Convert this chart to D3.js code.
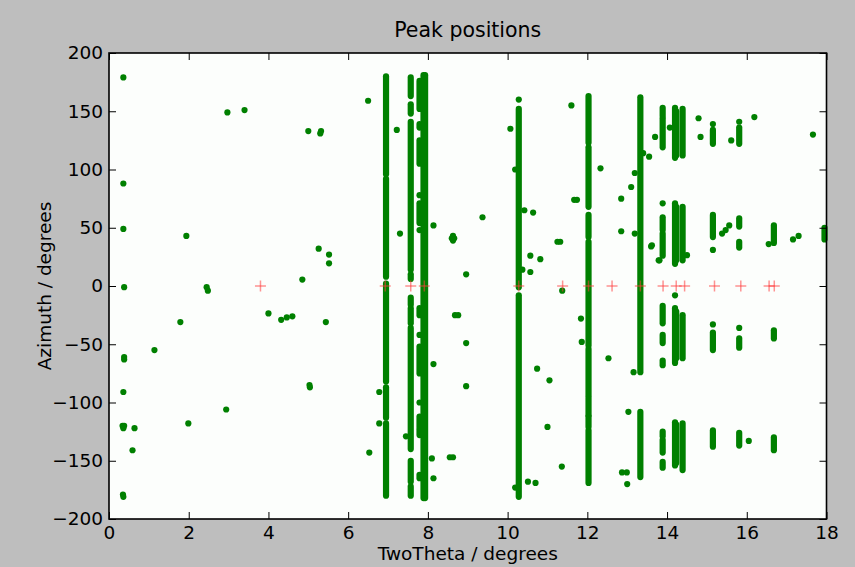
<!DOCTYPE html>
<html>
<head>
<meta charset="utf-8">
<script src="https://cdn.jsdelivr.net/npm/d3@7/dist/d3.min.js"></script>
<style>
  body { margin: 0; background: #bebebe; }
  svg { display: block; font-family: "DejaVu Sans", sans-serif; }
</style>
</head>
<body>
<div id="chart"></div>
<script>
// tick labels
const xTicks = [0, 2, 4, 6, 8, 10, 12, 14, 16, 18]
const yTicks = [-200, -150, -100, -50, 0, 50, 100, 150, 200]

// fitted peak positions (red crosses, all at azimuth 0)
const peakTheta = [3.80, 6.93, 7.57, 7.91, 10.28, 11.38, 12.03, 12.62, 13.33, 13.90, 14.23, 14.44, 15.19, 15.85, 16.56, 16.69]

// dense runs of spots along a ring: [twoTheta, azimuth from, azimuth to]
const ringRuns = [
    [6.95, 180, 96], [6.95, 92, 8], [6.95, 2, -82], [6.95, -87, -113], [6.95, -118, -180],
    [7.57, 179, 163], [7.57, 156, 148], [7.57, 141, 14], [7.57, 10, 6], [7.57, -10, -16],
    [7.57, -19, -32], [7.57, -36, -140], [7.57, -150, -168], [7.57, -172, -180],
    [7.79, 176, 152], [7.79, 139, 136], [7.79, 125, 105], [7.79, 78, 78], [7.79, 71, 54],
    [7.79, 48, 48], [7.79, -19, -25], [7.79, -42, -42], [7.79, -52, -75], [7.79, -100, -100],
    [7.79, -112, -121], [7.79, -123, -128], [7.79, -162, -165],
    [7.89, 181, -182], [7.93, 181, -182],
    [10.28, 160, 160], [10.28, 152, -1], [10.28, -8, -181],
    [12.03, 163, 123], [12.03, 119, 68], [12.03, 61, 42], [12.03, 38, -51], [12.03, -54, -94],
    [12.03, -96, -111], [12.03, -112, -121], [12.03, -124, -169],
    [13.33, 162, -74], [13.33, -108, -164],
    [13.89, 153, 146], [13.89, 144, 119], [13.89, 71, 71], [13.89, 59, 48], [13.89, 45, 26],
    [13.89, -17, -32], [13.89, -42, -49], [13.89, -64, -68], [13.89, -125, -129],
    [13.89, -132, -143], [13.89, -151, -156],
    [14.20, 153, 110], [14.20, 71, 19], [14.20, -8, -8], [14.20, -19, -66], [14.20, -117, -154],
    [14.23, 150, 112], [14.23, 68, 22], [14.23, -22, -62], [14.23, -119, -152],
    [14.39, 152, 112], [14.39, 68, 22], [14.39, -25, -62], [14.39, -118, -158],
    [15.15, 139, 139], [15.15, 134, 122], [15.15, 61, 42], [15.15, 31, 31], [15.15, -33, -33],
    [15.15, -40, -55], [15.15, -124, -138],
    [15.81, 141, 141], [15.81, 136, 122], [15.81, 58, 51], [15.81, 38, 33], [15.81, -36, -36],
    [15.81, -45, -53], [15.81, -126, -137],
    [16.68, 52, 37], [16.68, -38, -45], [16.68, -130, -141],
    [17.95, 50, 40]
]

// single spots: [twoTheta, azimuth]
const spots = [
    [0.36, 179], [0.36, 88], [0.36, 49], [0.38, -1], [0.38, -61], [0.38, -63], [0.36, -91],
    [0.34, -120], [0.38, -120], [0.36, -122], [0.64, -122], [0.59, -141], [0.36, -181], [0.35, -179],
    [1.14, -55], [1.79, -31], [1.94, 43], [1.99, -118],
    [2.45, -1], [2.48, -4], [2.94, -106], [2.97, 149], [3.40, 151],
    [4.00, -23.5], [4.32, -29], [4.46, -27], [4.60, -26], [4.85, 5.5],
    [5.00, 133], [5.30, 131], [5.32, 133], [5.03, -85], [5.04, -87], [5.26, 32], [5.44, -31],
    [5.52, 27], [5.52, 19.5],
    [6.50, 159], [6.53, -143], [6.78, -91], [6.78, -118],
    [7.22, 134], [7.30, 45], [7.45, -129],
    [8.14, 52], [8.14, -67], [8.10, -148], [8.14, -165], [8.60, 41], [8.66, 41], [8.63, 43],
    [8.63, 39], [8.68, -25], [8.76, -25], [8.96, 10], [8.96, -49], [8.96, -86], [8.55, -147],
    [8.63, -147], [9.37, 59],
    [10.07, 135], [10.19, 100], [10.42, 65], [10.64, 63], [10.57, 26], [10.82, 23], [10.57, 12],
    [10.37, 14], [10.74, -71], [11.05, -81], [11.00, -121], [10.51, -168], [10.70, -169],
    [10.19, -173], [11.36, -155], [11.37, -4], [11.25, 38], [11.32, 38], [11.60, 155],
    [11.67, 74], [11.74, 74], [11.84, -28], [11.86, -48], [12.33, 101],
    [12.53, -62], [12.85, 75], [13.10, 85], [13.19, 97], [12.85, 47], [13.19, 45], [13.55, 111],
    [13.40, 114], [13.60, 34], [13.81, 22], [13.16, -74], [13.03, -108], [12.87, -160],
    [12.99, -160], [13.00, -170],
    [13.70, 128], [14.07, 136], [13.79, 22], [13.62, 35], [14.50, 26.5],
    [14.79, 144], [14.84, 128], [15.38, 45], [15.47, 48], [15.56, 52],
    [15.61, 125], [16.05, -133], [16.19, 145],
    [16.55, 36], [17.16, 40], [17.30, 43], [17.66, 130]
]

const width = 855
const height = 567
const margin = { top: 53, right: 28.5, bottom: 48, left: 109 }
const green = "#008000"

const svg = d3.select("#chart")
    .append("svg")
    .attr("width", width)
    .attr("height", height)

svg.append("rect")
    .attr("width", width)
    .attr("height", height)
    .attr("fill", "#bebebe")

const xScale = d3.scaleLinear()
    .domain([0, 18])
    .range([margin.left, width - margin.right])

const yScale = d3.scaleLinear()
    .domain([-200, 200])
    .range([height - margin.bottom, margin.top])

// plot background
svg.append("rect")
    .attr("x", xScale(0))
    .attr("y", yScale(200))
    .attr("width", xScale(18) - xScale(0))
    .attr("height", yScale(-200) - yScale(200))
    .attr("fill", "#fcfefc")

const plot = svg.append("g")

plot.selectAll(".run")
    .data(ringRuns)
    .join("line")
    .attr("class", "run")
    .attr("x1", d => xScale(d[0]))
    .attr("x2", d => xScale(d[0]))
    .attr("y1", d => yScale(d[1]))
    .attr("y2", d => yScale(d[2]))
    .attr("stroke", green)
    .attr("stroke-width", 6.2)
    .attr("stroke-linecap", "round")

plot.selectAll(".spot")
    .data(spots)
    .join("circle")
    .attr("class", "spot")
    .attr("cx", d => xScale(d[0]))
    .attr("cy", d => yScale(d[1]))
    .attr("r", 3.1)
    .attr("fill", green)

// red crosses
const cross = 5.5
const peaks = plot.selectAll(".peak")
    .data(peakTheta)
    .join("g")
    .attr("class", "peak")
    .attr("transform", d => `translate(${xScale(d)},${yScale(0)})`)
    .attr("stroke", "#ff3b3b")
    .attr("stroke-opacity", 0.55)
    .attr("stroke-width", 1.5)
peaks.append("line").attr("x1", -cross).attr("x2", cross)
peaks.append("line").attr("y1", -cross).attr("y2", cross)

// axes, ticks pointing inward on all four sides
const tickLen = 7
const xAxis = d3.axisBottom(xScale).tickValues(xTicks).tickSizeInner(-tickLen).tickSizeOuter(0).tickPadding(7)
const yAxis = d3.axisLeft(yScale).tickValues(yTicks).tickSizeInner(-tickLen).tickSizeOuter(0).tickPadding(6)

svg.append("g")
    .attr("transform", `translate(0,${yScale(-200)})`)
    .call(xAxis)
svg.append("g")
    .attr("transform", `translate(${xScale(0)},0)`)
    .call(yAxis)
svg.append("g")
    .attr("transform", `translate(0,${yScale(200)})`)
    .call(d3.axisTop(xScale).tickValues(xTicks).tickSizeInner(-tickLen).tickSizeOuter(0).tickFormat(""))
svg.append("g")
    .attr("transform", `translate(${xScale(18)},0)`)
    .call(d3.axisRight(yScale).tickValues(yTicks).tickSizeInner(-tickLen).tickSizeOuter(0).tickFormat(""))

svg.selectAll(".domain").remove()
svg.selectAll(".tick line").attr("stroke", "#000").attr("stroke-width", 1)
svg.selectAll(".tick text")
    .attr("font-family", "DejaVu Sans")
    .attr("font-size", 18.5)
    .attr("fill", "#000")

// frame
svg.append("rect")
    .attr("x", xScale(0))
    .attr("y", yScale(200))
    .attr("width", xScale(18) - xScale(0))
    .attr("height", yScale(-200) - yScale(200))
    .attr("fill", "none")
    .attr("stroke", "#000")
    .attr("stroke-width", 1.6)

// title + axis labels
svg.append("text")
    .attr("x", (xScale(0) + xScale(18)) / 2)
    .attr("y", 37)
    .attr("text-anchor", "middle")
    .attr("font-size", 20.5)
    .text("Peak positions")

svg.append("text")
    .attr("x", (xScale(0) + xScale(18)) / 2)
    .attr("y", 560)
    .attr("text-anchor", "middle")
    .attr("font-size", 18.5)
    .text("TwoTheta / degrees")

svg.append("text")
    .attr("transform", `translate(51,${yScale(0)}) rotate(-90)`)
    .attr("text-anchor", "middle")
    .attr("font-size", 18.5)
    .text("Azimuth / degrees")
</script>
</body>
</html>
